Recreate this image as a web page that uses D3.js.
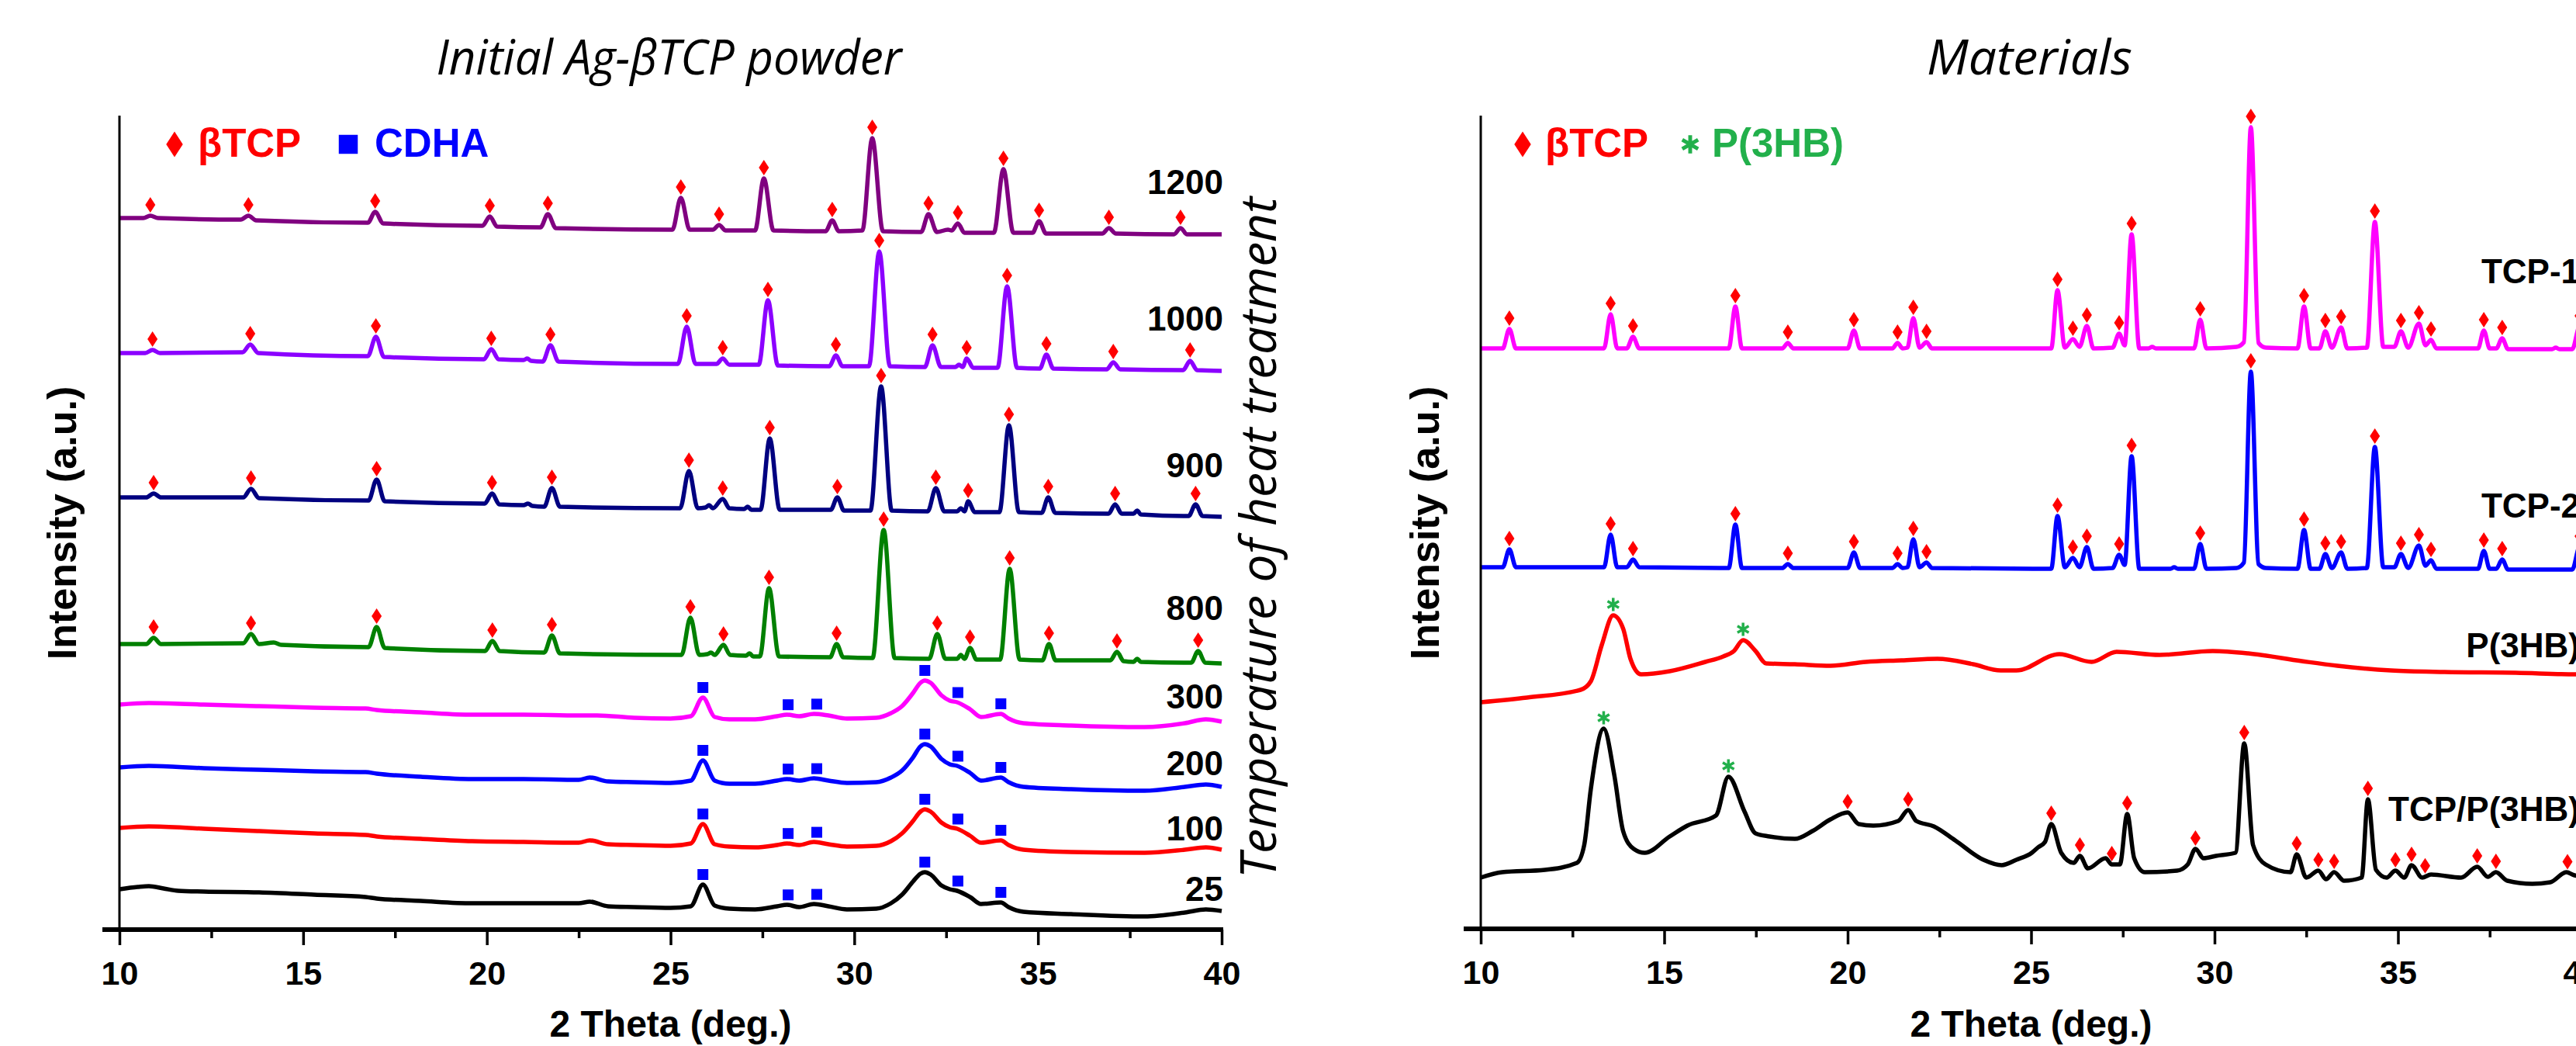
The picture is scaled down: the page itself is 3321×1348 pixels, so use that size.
<!DOCTYPE html>
<html>
<head>
<meta charset="utf-8">
<script src="https://cdn.jsdelivr.net/npm/d3@7"></script>
<style>
  body { margin: 0; background: #fff; }
  svg { display: block; }
  text { font-family: "Liberation Sans", Arial, sans-serif; }
</style>
</head>
<body>
<svg id="chart"></svg>
<script>
// ---- data (2 Theta in deg., intensity in arbitrary units, offsets included) ----
const majorTicks = [10, 15, 20, 25, 30, 35, 40];
const minorTicks = [12.5, 17.5, 22.5, 27.5, 32.5, 37.5];

const s1200 = [[10,917],[10.65,917],[10.84,920],[11.05,917],[13.3,915],[13.51,920],[13.72,914],[16.76,911],[16.96,925],[17.18,910],[19.88,907],[20.08,919],[20.28,906],[21.46,905],[21.66,922],[21.88,904],[25.05,902],[25.28,943],[25.52,902],[26.15,902],[26.32,908],[26.5,901],[27.3,901],[27.54,968],[27.8,901],[29.22,900],[29.4,914],[29.58,900],[30.22,901],[30.49,1020],[30.78,900],[31.82,899],[32.02,922],[32.25,899],[32.55,902],[32.65,901],[32.82,910],[33.0,898],[33.8,898],[34.06,980],[34.33,898],[34.85,898],[35.03,913],[35.22,897],[36.75,897],[36.93,904],[37.12,897],[38.7,896],[38.88,904],[39.06,896],[40,896]];
const s1000 = [[10,743],[10.7,743],[10.9,747],[11.1,743],[13.35,744],[13.56,754],[13.78,743],[16.76,739],[16.98,764],[17.2,738],[19.92,735],[20.12,748],[20.32,735],[21.0,734],[21.1,736],[21.2,733],[21.52,732],[21.73,753],[21.95,732],[25.2,729],[25.44,777],[25.68,729],[26.25,729],[26.42,736],[26.6,728],[27.4,728],[27.65,811],[27.92,727],[29.32,726],[29.5,740],[29.68,726],[30.4,726],[30.68,874],[30.97,726],[31.92,725],[32.13,753],[32.36,725],[32.75,725],[32.85,728],[32.95,725],[33.06,736],[33.24,724],[33.9,724],[34.16,829],[34.43,724],[35.05,723],[35.23,741],[35.42,723],[36.87,722],[37.05,731],[37.24,722],[38.95,721],[39.14,733],[39.33,721],[40,720]];
const s900 = [[10,557],[10.73,557],[10.93,562],[11.13,557],[13.37,557],[13.58,568],[13.8,556],[16.78,553],[17.0,580],[17.22,552],[19.94,549],[20.14,562],[20.34,548],[21.0,547],[21.12,549],[21.24,546],[21.56,545],[21.77,569],[21.99,545],[25.26,543],[25.5,591],[25.74,543],[25.95,544],[26.05,547],[26.15,543],[26.42,555],[26.6,543],[27.0,542],[27.1,545],[27.2,541],[27.45,541],[27.7,633],[27.97,541],[29.36,541],[29.54,557],[29.72,540],[30.44,540],[30.73,700],[31.02,540],[32.0,539],[32.22,569],[32.45,539],[32.8,539],[32.9,543],[33.0,539],[33.1,552],[33.28,538],[33.95,538],[34.21,650],[34.48,538],[35.1,537],[35.28,557],[35.47,537],[36.92,536],[37.1,548],[37.28,536],[37.6,536],[37.7,540],[37.8,535],[39.1,533],[39.29,548],[39.48,533],[40,532]];
const s800 = [[10,368],[10.73,368],[10.93,376],[11.13,368],[13.37,369],[13.58,381],[13.8,368],[14.2,370],[14.4,367],[16.78,364],[17.0,390],[17.22,363],[19.95,359],[20.15,372],[20.35,359],[21.56,357],[21.77,379],[21.99,356],[25.3,354],[25.54,402],[25.78,354],[26.0,355],[26.1,357],[26.2,354],[26.44,367],[26.62,354],[27.05,353],[27.15,356],[27.25,352],[27.43,352],[27.68,440],[27.95,352],[29.34,351],[29.52,368],[29.7,351],[30.5,350],[30.8,515],[31.1,350],[32.04,349],[32.26,381],[32.48,349],[32.8,349],[32.9,354],[33.0,349],[33.15,363],[33.33,348],[33.97,348],[34.23,465],[34.5,348],[35.12,347],[35.3,368],[35.48,347],[36.97,347],[37.15,358],[37.33,346],[37.6,345],[37.7,349],[37.8,345],[39.17,344],[39.36,359],[39.55,344],[40,343]];
const s300 = [[10,290],[10.8,292],[12.3,290],[13.8,288],[15.3,286],[16.7,285],[17.0,283],[18.2,280],[19.6,277],[21.0,277],[22.5,276],[23.0,276],[24.0,273],[25.0,272],[25.55,275],[25.88,299],[26.2,274],[26.6,271],[27.3,271],[27.9,275],[28.17,277],[28.5,275],[28.9,278],[29.3,276],[29.8,272],[30.6,273],[31.0,279],[31.3,288],[31.6,305],[31.8,318],[31.92,321],[32.08,318],[32.37,302],[32.6,295],[32.8,293],[33.15,284],[33.45,274],[33.99,278],[34.2,272],[34.6,266],[35.9,263],[37.9,261],[39.0,266],[39.57,271],[40,268]];
const s200 = [[10,209],[10.8,211],[12.3,208],[13.8,206],[15.3,204],[16.7,203],[17.0,201],[18.2,197],[19.6,194],[21.0,194],[22.5,193],[22.8,196],[23.3,191],[24.0,190],[25.0,189],[25.55,192],[25.88,218],[26.2,192],[26.6,188],[27.3,188],[27.9,192],[28.17,194],[28.5,192],[28.9,195],[29.3,192],[29.8,189],[30.6,190],[31.0,196],[31.3,205],[31.6,222],[31.8,236],[31.92,239],[32.08,236],[32.37,220],[32.6,213],[32.8,211],[33.15,202],[33.45,192],[33.99,196],[34.2,190],[34.6,184],[35.9,181],[37.9,179],[39.0,184],[39.57,187],[40,184]];
const s100 = [[10,131],[10.8,133],[12.3,130],[13.8,127],[15.3,124],[16.7,122],[17.0,120],[18.2,117],[19.6,114],[21.0,113],[22.5,112],[22.8,115],[23.3,110],[24.0,109],[25.0,108],[25.55,111],[25.88,136],[26.2,110],[26.6,107],[27.3,106],[27.9,109],[28.17,111],[28.5,109],[28.9,113],[29.3,110],[29.8,107],[30.6,108],[31.0,114],[31.3,124],[31.6,140],[31.8,152],[31.92,155],[32.08,152],[32.37,138],[32.6,132],[32.8,130],[33.15,121],[33.45,112],[33.99,115],[34.2,109],[34.6,103],[35.9,100],[37.9,99],[39.0,103],[39.57,106],[40,103]];
const s25 = [[10,52],[10.5,55],[10.8,56],[11.2,53],[11.6,50],[12.3,49],[13.8,48],[15.3,45],[16.7,42],[17.0,40],[18.2,37],[19.6,34],[21.0,34],[22.5,34],[22.8,36],[23.3,30],[24.0,29],[25.0,28],[25.55,30],[25.88,58],[26.2,31],[26.6,27],[27.3,26],[27.9,30],[28.17,32],[28.5,29],[28.9,33],[29.3,30],[29.8,26],[30.6,27],[31.0,34],[31.3,45],[31.6,62],[31.8,72],[31.92,74],[32.08,71],[32.37,57],[32.6,52],[32.8,50],[33.15,42],[33.45,33],[33.99,35],[34.2,29],[34.6,23],[35.9,20],[37.9,17],[39.0,22],[39.57,26],[40,24]];

const tcp1 = [[10,748],[10.6,748],[10.78,773],[10.96,748],[13.36,748],[13.54,792],[13.72,748],[13.98,748],[14.15,763],[14.32,748],[16.76,748],[16.94,802],[17.12,748],[18.22,748],[18.37,755],[18.52,748],[20.0,748],[20.17,771],[20.34,748],[21.22,748],[21.36,755],[21.5,748],[21.63,749],[21.79,787],[21.96,749],[22.15,756],[22.3,748],[25.55,748],[25.72,823],[25.92,749],[26.14,760],[26.32,750],[26.52,777],[26.7,748],[27.22,749],[27.4,767],[27.55,752],[27.74,895],[27.95,748],[28.2,748],[28.3,750],[28.4,748],[29.44,748],[29.61,785],[29.78,748],[30.6,750],[30.8,756],[30.99,1033],[31.2,755],[31.4,749],[32.26,748],[32.44,802],[32.62,748],[32.86,748],[33.02,770],[33.2,749],[33.45,775],[33.62,748],[34.15,749],[34.37,911],[34.6,750],[34.9,750],[35.08,770],[35.28,749],[35.57,780],[35.75,752],[35.9,759],[36.05,748],[37.18,748],[37.34,771],[37.5,748],[37.68,748],[37.84,761],[38.0,747],[39.2,747],[39.3,749],[39.4,747],[39.75,747],[39.95,776],[40,770]];
const tcp2 = [[10,466],[10.6,466],[10.78,489],[10.96,466],[13.36,466],[13.54,508],[13.72,466],[13.98,466],[14.15,476],[14.32,466],[16.76,465],[16.94,521],[17.12,465],[18.22,465],[18.37,470],[18.52,465],[20.0,465],[20.17,485],[20.34,465],[21.22,465],[21.36,470],[21.5,465],[21.63,466],[21.79,502],[21.96,466],[22.15,472],[22.3,465],[25.55,464],[25.72,532],[25.92,466],[26.14,478],[26.32,466],[26.52,492],[26.7,464],[27.22,465],[27.4,482],[27.55,469],[27.74,609],[27.95,464],[28.8,464],[28.9,466],[29.0,464],[29.44,464],[29.61,496],[29.78,464],[30.6,465],[30.8,472],[30.99,718],[31.2,470],[31.4,465],[32.26,464],[32.44,514],[32.62,464],[32.86,464],[33.02,483],[33.2,465],[33.45,485],[33.62,464],[34.15,465],[34.37,621],[34.6,466],[34.9,466],[35.08,483],[35.28,465],[35.57,494],[35.75,468],[35.9,475],[36.05,464],[37.18,464],[37.34,487],[37.5,464],[37.68,464],[37.84,476],[38.0,463],[39.75,463],[39.95,492],[40,488]];
const p3hb = [[10.0,292],[11.26,298],[12.72,308],[13.0,319],[13.3,366],[13.61,404],[13.88,387],[14.08,348],[14.37,328],[15.15,332],[16.12,344],[16.61,351],[16.9,358],[17.15,372],[17.49,358],[17.78,342],[18.56,341],[19.53,339],[20.5,344],[21.47,346],[22.45,348],[23.42,341],[24.17,333],[24.6,333],[25.77,354],[26.65,344],[27.33,357],[28.5,353],[29.95,358],[30.92,355],[32.38,345],[33.35,339],[34.81,333],[36.27,331],[38.21,330],[39.82,328],[40,328]];
const tcpP3hb = [[10.0,66],[10.58,73],[11.75,76],[12.62,85],[12.82,108],[13.0,180],[13.35,258],[13.64,198],[13.88,126],[14.17,103],[14.47,98],[15.15,119],[15.63,133],[16.41,146],[16.75,196],[17.19,151],[17.49,123],[17.87,119],[18.56,116],[19.04,126],[19.53,141],[20.0,150],[20.3,135],[20.7,133],[21.38,139],[21.65,153],[21.87,139],[22.35,132],[22.93,114],[23.7,89],[24.2,82],[24.6,89],[25.02,98],[25.19,105],[25.38,112],[25.55,135],[25.82,98],[26.16,85],[26.33,94],[26.55,78],[27.03,91],[27.2,83],[27.42,83],[27.62,148],[27.81,91],[28.1,73],[28.98,75],[29.27,83],[29.48,103],[29.7,91],[30.04,94],[30.57,98],[30.81,239],[31.05,108],[31.39,83],[32.07,73],[32.24,96],[32.5,66],[32.83,75],[33.04,64],[33.26,73],[33.53,62],[34.01,66],[34.18,167],[34.4,76],[34.69,66],[34.93,75],[35.17,66],[35.37,82],[35.66,66],[35.9,70],[36.72,66],[37.16,80],[37.45,67],[37.67,73],[37.98,62],[38.66,58],[39.15,60],[39.59,73],[39.81,69],[40,68]];

// peak marker positions (2 Theta)
const tcpMarks1200 = [10.84,13.51,16.96,20.08,21.66,25.28,26.32,27.54,29.4,30.49,32.02,32.82,34.06,35.03,36.93,38.88];
const tcpMarks1000 = [10.9,13.56,16.98,20.12,21.73,25.44,26.42,27.65,29.5,30.68,32.13,33.06,34.16,35.23,37.05,39.14];
const tcpMarks900 = [10.93,13.58,17.0,20.14,21.77,25.5,26.42,27.7,29.54,30.73,32.22,33.1,34.21,35.28,37.1,39.29];
const tcpMarks800 = [10.93,13.58,17.0,20.15,21.77,25.54,26.44,27.68,29.52,30.8,32.26,33.15,34.23,35.3,37.15,39.36];
const cdhaMarks = [25.88,28.2,28.98,31.92,32.82,33.99];
const tcpMarksMat = [10.78,13.54,14.15,16.94,18.37,20.17,21.36,21.79,22.15,25.72,26.14,26.52,27.4,27.74,29.61,30.99,32.44,33.02,33.45,34.37,35.08,35.57,35.9,37.34,37.84,39.95];
const p3hbMarks = [13.61,17.15];
const compP3hbMarks = [13.35,16.75];
const compTcpMarks = [20.0,21.65,25.55,26.33,27.2,27.62,29.48,30.81,32.24,32.83,33.26,34.18,34.93,35.37,35.74,37.16,37.67,39.62];

const heatLabels = ['1200','1000','900','800','300','200','100','25'];
const materialLabels = ['TCP-1','TCP-2','P(3HB)','TCP/P(3HB)'];

// ---- styling / layout ----
const RED = '#ff0000', BLUE = '#0000ff', GREEN = '#22b04b';
const W = 3321, H = 1348;

const diamond = { draw(ctx, size) { const h = Math.sqrt(size) , w = h * 0.65;
  ctx.moveTo(0, -h); ctx.lineTo(w, 0); ctx.lineTo(0, h); ctx.lineTo(-w, 0); ctx.closePath(); } };
const square = { draw(ctx, size) { const s = Math.sqrt(size) / 2; ctx.rect(-s, -s, 2 * s, 2 * s); } };

const panels = [
  {
    x0: 154, x1: 1575, axisY: 1198, top: 149, title: 'Initial Ag-\u03B2TCP powder', titleLen: 600,
    series: [
      {data: s1200, color: '#800080', label: heatLabels[0], ly: 250, marks: tcpMarks1200, sym: 'd'},
      {data: s1000, color: '#8b00ff', label: heatLabels[1], ly: 426, marks: tcpMarks1000, sym: 'd'},
      {data: s900, color: '#000080', label: heatLabels[2], ly: 615, marks: tcpMarks900, sym: 'd'},
      {data: s800, color: '#008000', label: heatLabels[3], ly: 799, marks: tcpMarks800, sym: 'd'},
      {data: s300, color: '#ff00ff', label: heatLabels[4], ly: 913, marks: cdhaMarks, sym: 's'},
      {data: s200, color: '#0000ff', label: heatLabels[5], ly: 999, marks: cdhaMarks, sym: 's'},
      {data: s100, color: '#ff0000', label: heatLabels[6], ly: 1083, marks: cdhaMarks, sym: 's'},
      {data: s25, color: '#000000', label: heatLabels[7], ly: 1161, marks: cdhaMarks, sym: 's'}
    ],
    labelX: 1577,
    legend: [{sym: 'd', x: 225, text: '\u03B2TCP', color: RED, tx: 255},
             {sym: 's', x: 449, text: 'CDHA', color: BLUE, tx: 483}],
    ylabX: 98
  },
  {
    x0: 1909, x1: 3328, axisY: 1197, top: 149, title: 'Materials', titleLen: 265,
    series: [
      {data: tcp1, color: '#ff00ff', label: materialLabels[0], ly: 365, marks: tcpMarksMat, sym: 'd'},
      {data: tcp2, color: '#0000ff', label: materialLabels[1], ly: 667, marks: tcpMarksMat, sym: 'd'},
      {data: p3hb, color: '#ff0000', label: materialLabels[2], ly: 847, marks: p3hbMarks, sym: 'a'},
      {data: tcpP3hb, color: '#000000', label: materialLabels[3], ly: 1058, marks: compP3hbMarks, sym: 'a', marks2: compTcpMarks}
    ],
    labelX: 3326,
    legend: [{sym: 'd', x: 1963, text: '\u03B2TCP', color: RED, tx: 1992},
             {sym: 'a', x: 2179, text: 'P(3HB)', color: GREEN, tx: 2207}],
    ylabX: 1855
  }
];

const svg = d3.select('#chart').attr('width', W).attr('height', H)
  .style('background', '#fff');

function valueAt(data, t) {
  const i = d3.bisector(d => d[0]).left(data, t);
  if (i <= 0) return data[0][1];
  if (i >= data.length) return data[data.length - 1][1];
  const a = data[i - 1], b = data[i];
  return a[1] + (b[1] - a[1]) * (t - a[0]) / (b[0] - a[0]);
}

function drawMark(g, kind, cx, cy, scale) {
  const k = scale || 1;
  if (kind === 'd') {
    g.append('path').attr('d', d3.symbol(diamond, 100 * k * k)())
      .attr('transform', `translate(${cx},${cy})`).attr('fill', RED);
  } else if (kind === 's') {
    g.append('path').attr('d', d3.symbol(square, 196 * k * k)())
      .attr('transform', `translate(${cx},${cy})`).attr('fill', BLUE);
  } else {
    g.append('path').attr('d', d3.symbol(d3.symbolAsterisk, 200 * k * k)())
      .attr('transform', `translate(${cx},${cy})`)
      .attr('fill', 'none').attr('stroke', GREEN).attr('stroke-width', 3.5 * k);
  }
}

panels.forEach(p => {
  const x = d3.scaleLinear().domain([10, 40]).range([p.x0, p.x1]);
  const y = d3.scaleLinear().domain([0, 1050]).range([p.axisY, p.axisY - 1050]);
  const g = svg.append('g');

  // title
  g.append('text').attr('x', (p.x0 + p.x1) / 2 - 2).attr('y', 96)
    .attr('text-anchor', 'middle')
    .style('font-family', '"Open Sans", sans-serif').style('font-style', 'italic')
    .style('font-size', '62px')
    .attr('textLength', p.titleLen).attr('lengthAdjust', 'spacingAndGlyphs')
    .text(p.title);

  // curves
  const line = d3.line().x(d => x(d[0])).y(d => y(d[1])).curve(d3.curveMonotoneX);
  g.selectAll('path.curve').data(p.series).enter().append('path')
    .attr('class', 'curve')
    .attr('d', s => line(s.data))
    .attr('fill', 'none')
    .attr('stroke', s => s.color)
    .attr('stroke-width', 5.5)
    .attr('stroke-linejoin', 'round');

  // markers
  const mg = g.append('g');
  p.series.forEach(s => {
    s.marks.forEach(t => {
      const off = s.sym === 's' ? 13 : 14;
      drawMark(mg, s.sym, x(t), y(valueAt(s.data, t) + off));
    });
    (s.marks2 || []).forEach(t => drawMark(mg, 'd', x(t), y(valueAt(s.data, t) + 14)));
  });

  // series labels
  g.selectAll('text.lab').data(p.series).enter().append('text')
    .attr('class', 'lab')
    .attr('x', p.labelX).attr('y', s => s.ly)
    .attr('text-anchor', 'end')
    .style('font-size', '44px').style('font-weight', 'bold')
    .text(s => s.label);

  // legend
  p.legend.forEach(l => {
    drawMark(g, l.sym, l.x, 186, l.sym === 'd' ? 1.65 : (l.sym === 's' ? 1.75 : 1.4));
    g.append('text').attr('x', l.tx).attr('y', 202)
      .style('font-size', '51px').style('font-weight', 'bold')
      .attr('fill', l.color).text(l.text);
  });

  // y axis line
  g.append('line').attr('x1', p.x0).attr('x2', p.x0).attr('y1', p.top).attr('y2', p.axisY)
    .attr('stroke', '#000').attr('stroke-width', 3);

  // x axis
  const ax = g.append('g').attr('transform', `translate(0,${p.axisY})`);
  ax.call(d3.axisBottom(x).tickValues(majorTicks).tickSize(20).tickFormat(d3.format('d')));
  ax.append('g').call(d3.axisBottom(x).tickValues(minorTicks).tickSize(11).tickFormat(''));
  ax.selectAll('.domain').remove();
  ax.selectAll('line').attr('stroke', '#000').attr('stroke-width', 3.5);
  ax.selectAll('text').attr('y', 71).attr('dy', 0)
    .style('font-family', '"Liberation Sans", Arial, sans-serif')
    .style('font-size', '43px').style('font-weight', 'bold').attr('fill', '#000');
  ax.append('line').attr('x1', p.x0 - 22).attr('x2', p.x1 + 2).attr('y1', 0).attr('y2', 0)
    .attr('stroke', '#000').attr('stroke-width', 6);

  // axis titles
  g.append('text').attr('x', (p.x0 + p.x1) / 2).attr('y', 1336)
    .attr('text-anchor', 'middle')
    .style('font-size', '48px').style('font-weight', 'bold')
    .text('2 Theta (deg.)');
  g.append('text')
    .attr('transform', `translate(${p.ylabX},674) rotate(-90)`)
    .attr('text-anchor', 'middle')
    .style('font-size', '52px').style('font-weight', 'bold')
    .text('Intensity (a.u.)');
});

// heat treatment axis caption (left panel)
svg.append('text')
  .attr('transform', 'translate(1645,693) rotate(-90)')
  .attr('text-anchor', 'middle')
  .style('font-family', '"Open Sans", sans-serif').style('font-style', 'italic')
  .style('font-size', '64px')
  .attr('textLength', 878).attr('lengthAdjust', 'spacingAndGlyphs')
  .text('Temperature of heat treatment');
</script>
</body>
</html>
